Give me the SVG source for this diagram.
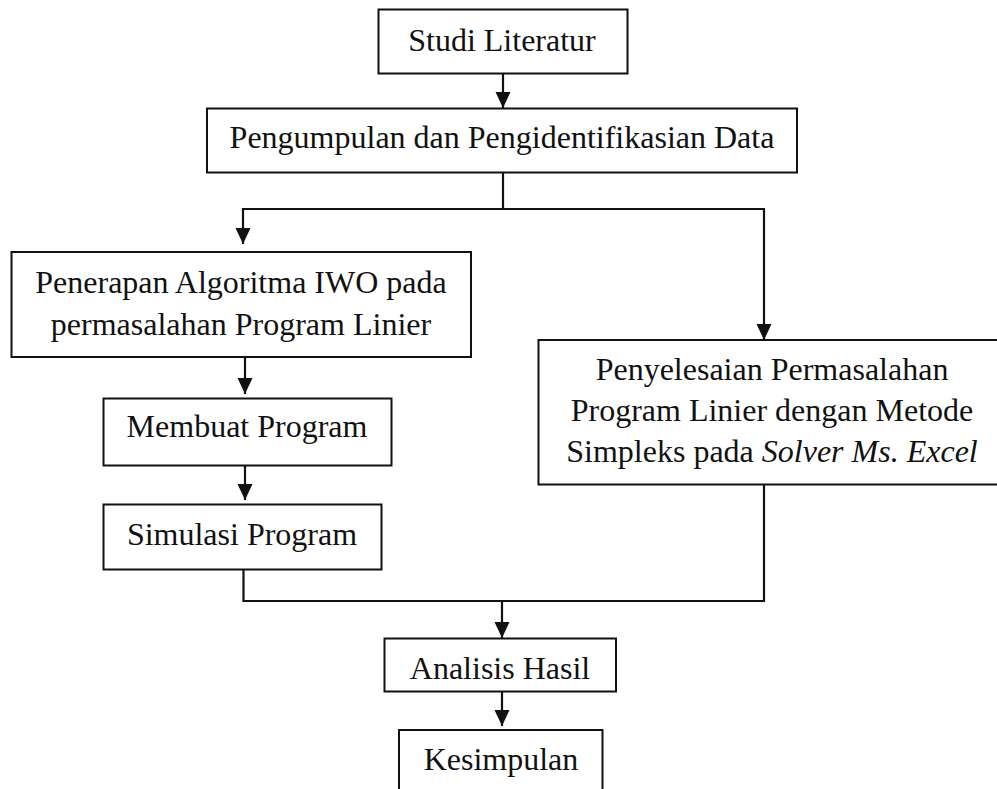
<svg xmlns="http://www.w3.org/2000/svg" width="997" height="789" viewBox="0 0 997 789">
  <style>
    .box { fill: #ffffff; stroke: #111111; stroke-width: 2; }
    .lbl { font-family: "Liberation Serif", "Times New Roman", serif; font-size: 32px; fill: #111111; text-anchor: middle; }
    .conn { fill: none; stroke: #111111; stroke-width: 2.2; }
    .it { font-style: italic; }
  </style>
  <defs>
    <marker id="arrow" markerUnits="userSpaceOnUse" markerWidth="16" markerHeight="16" refX="16" refY="7.5" orient="auto">
      <polygon points="0,0 16,7.5 0,15" fill="#111111"/>
    </marker>
  </defs>
  <rect width="997" height="789" fill="#ffffff"/>

  <g id="connectors">
    <line class="conn" x1="503" y1="73" x2="503" y2="108" marker-end="url(#arrow)"/>
    <polyline class="conn" points="503,172 503,209 243,209 243,244" marker-end="url(#arrow)"/>
    <polyline class="conn" points="503,209 764,209 764,340" marker-end="url(#arrow)"/>
    <line class="conn" x1="245" y1="357" x2="245" y2="394" marker-end="url(#arrow)"/>
    <line class="conn" x1="245" y1="466" x2="245" y2="500" marker-end="url(#arrow)"/>
    <polyline class="conn" points="243.5,569 243.5,601 764,601 764,484"/>
    <line class="conn" x1="502" y1="601" x2="502" y2="638" marker-end="url(#arrow)"/>
    <line class="conn" x1="502" y1="692" x2="502" y2="726" marker-end="url(#arrow)"/>
  </g>

  <g id="studi-literatur">
    <rect class="box" x="378.5" y="9.5" width="249" height="64"/>
    <text class="lbl" x="502" y="51">Studi Literatur</text>
  </g>

  <g id="pengumpulan">
    <rect class="box" x="207" y="108.5" width="590" height="64"/>
    <text class="lbl" x="502" y="148">Pengumpulan dan Pengidentifikasian Data</text>
  </g>

  <g id="penerapan">
    <rect class="box" x="11.5" y="252" width="459.5" height="105"/>
    <text class="lbl" x="241" y="293">Penerapan Algoritma IWO pada</text>
    <text class="lbl" x="241" y="335">permasalahan Program Linier</text>
  </g>

  <g id="penyelesaian">
    <rect class="box" x="538.5" y="340" width="470" height="144.5"/>
    <text class="lbl" x="772" y="380">Penyelesaian Permasalahan</text>
    <text class="lbl" x="772" y="421">Program Linier dengan Metode</text>
    <text class="lbl" x="772" y="462">Simpleks pada <tspan class="it">Solver Ms. Excel</tspan></text>
  </g>

  <g id="membuat-program">
    <rect class="box" x="103.5" y="398.5" width="288" height="67"/>
    <text class="lbl" x="247" y="437">Membuat Program</text>
  </g>

  <g id="simulasi-program">
    <rect class="box" x="103.5" y="504.5" width="278" height="65"/>
    <text class="lbl" x="242" y="545">Simulasi Program</text>
  </g>

  <g id="analisis-hasil">
    <rect class="box" x="384.5" y="638.5" width="231.5" height="53"/>
    <text class="lbl" x="500" y="679">Analisis Hasil</text>
  </g>

  <g id="kesimpulan">
    <rect class="box" x="399" y="730" width="203.5" height="70"/>
    <text class="lbl" x="501" y="770">Kesimpulan</text>
  </g>
</svg>
